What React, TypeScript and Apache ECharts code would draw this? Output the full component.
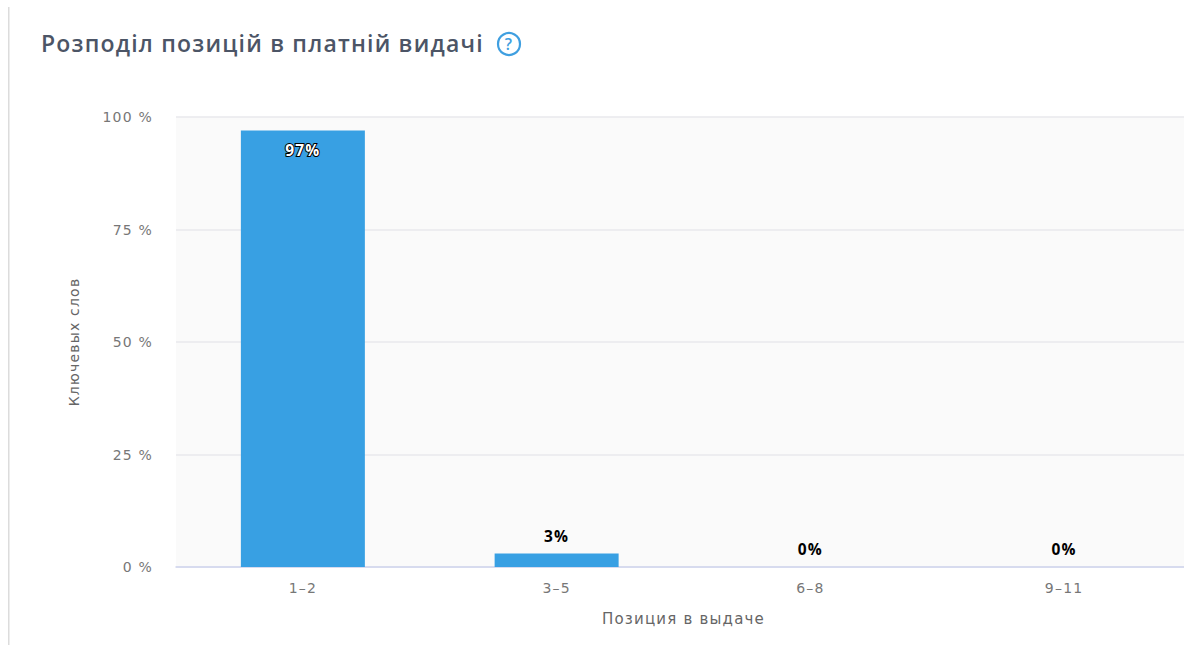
import React, { useEffect, useRef } from "react";
import * as echarts from "echarts";

const categories = ["1-2", "3-5", "6-8", "9-11"];
const shares = [97, 3, 0, 0];
const yTicks = [0, 25, 50, 75, 100];
const titleText = "Розподіл позицій в платній видачі";
const yAxisName = "Ключевых слов";
const xAxisName = "Позиция в выдаче";

const TITLE_FONT = '"Open Sans", sans-serif';
const AXIS_FONT = '"DejaVu Sans", sans-serif';

export default function App() {
  const ref = useRef<HTMLDivElement>(null);
  useEffect(() => {
    const chart = echarts.init(ref.current!, undefined, { renderer: "svg" });
    chart.setOption({
      animation: false,
      backgroundColor: "#ffffff",
      textStyle: { fontFamily: AXIS_FONT },
      grid: {
        left: 176,
        top: 117,
        width: 1015,
        height: 450,
        show: true,
        backgroundColor: "#fafafa",
        borderWidth: 0,
        outerBoundsMode: "none",
      },
      xAxis: {
        type: "category",
        data: categories,
        name: xAxisName,
        nameLocation: "middle",
        nameGap: 44,
        nameTextStyle: { color: "#666666", fontSize: 15, fontFamily: AXIS_FONT },
        axisLine: { lineStyle: { color: "#cfd5ee", width: 1.5 } },
        axisTick: { show: false },
        axisLabel: {
          color: "#777777",
          fontSize: 14,
          fontFamily: AXIS_FONT,
          margin: 14,
          formatter: (v: string) => v.replace("-", "–"),
        },
      },
      yAxis: {
        type: "value",
        min: yTicks[0],
        max: yTicks[yTicks.length - 1],
        interval: 25,
        name: yAxisName,
        nameLocation: "middle",
        nameRotate: 90,
        nameGap: 95,
        nameTextStyle: { color: "#666666", fontSize: 14, fontFamily: AXIS_FONT },
        axisLine: { show: false },
        axisTick: { show: false },
        splitLine: { lineStyle: { color: "#e8e8ec", width: 1.5 } },
        axisLabel: {
          color: "#777777",
          fontSize: 14,
          fontFamily: AXIS_FONT,
          margin: 23,
          formatter: (v: number) => `${v} %`,
        },
      },
      series: [
        {
          type: "bar",
          data: shares.map((value) => ({
            value,
            label:
              value > 50
                ? {
                    position: "insideTop",
                    distance: 11,
                    color: "#ffffff",
                    textBorderColor: "#000000",
                    textBorderWidth: 2,
                  }
                : { position: "top", distance: 10, color: "#000000" },
          })),
          barWidth: 124,
          itemStyle: { color: "#38a0e3" },
          label: {
            show: true,
            fontSize: 15.5,
            fontWeight: "bold",
            fontFamily: TITLE_FONT,
            formatter: "{c}%",
          },
        },
      ],
      graphic: [
        {
          type: "rect",
          shape: { x: 8, y: 7, width: 1.5, height: 638 },
          style: { fill: "#dcdcdc" },
        },
        {
          type: "text",
          x: 41,
          y: 43,
          style: {
            text: titleText,
            fontFamily: TITLE_FONT,
            fontSize: 23,
            fontWeight: 600,
            fill: "#4c5566",
            textVerticalAlign: "middle",
          },
        },
        {
          type: "circle",
          shape: { cx: 509, cy: 44, r: 11 },
          style: { fill: "none", stroke: "#3f9fe0", lineWidth: 2.2 },
        },
        {
          type: "text",
          x: 509,
          y: 44,
          style: {
            text: "?",
            fontFamily: TITLE_FONT,
            fontSize: 16,
            fontWeight: 600,
            fill: "#3f9fe0",
            textAlign: "center",
            textVerticalAlign: "middle",
          },
        },
      ],
    });
    return () => chart.dispose();
  }, []);
  return (
    <>
      <style>{`svg text { letter-spacing: 1.2px; }`}</style>
      <div
        ref={ref}
        style={{ position: "fixed", left: 0, top: 0, width: 1184, height: 645 }}
      />
    </>
  );
}
